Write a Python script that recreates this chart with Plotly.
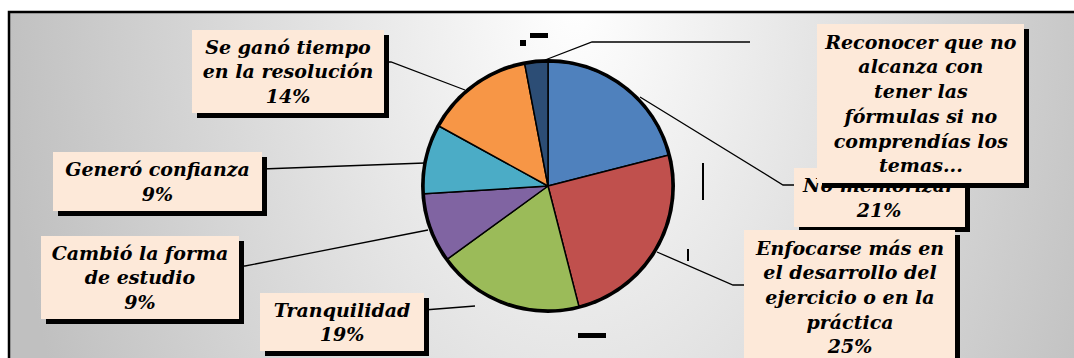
import base64
import plotly.graph_objects as go

W, H = 1074, 358

# ---- data ----
categories = [
    "No memorizar",
    "Enfocarse más en el desarrollo del ejercicio o en la práctica",
    "Tranquilidad",
    "Cambió la forma de estudio",
    "Generó confianza",
    "Se ganó tiempo en la resolución",
    "Reconocer que no alcanza con tener las fórmulas si no comprendías los temas...",
]
values = [21, 25, 19, 9, 9, 14, 3]
label_lines = [
    ["No memorizar"],
    ["Enfocarse más en", "el desarrollo del", "ejercicio o en la", "práctica"],
    ["Tranquilidad"],
    ["Cambió la forma", "de estudio"],
    ["Generó confianza"],
    ["Se ganó tiempo", "en la resolución"],
    ["Reconocer que no", "alcanza con", "tener las", "fórmulas si no", "comprendías los", "temas..."],
]
show_pct = [True, True, True, True, True, True, False]
colors = ["#4F81BD", "#C0504D", "#9BBB59", "#8064A2", "#4BACC6", "#F79646", "#2C4D75"]

# ---- layout helpers (pixel -> paper) ----
def X(x):
    return x / W

def Y(y):
    return 1 - y / H

cx, cy, r = 548, 186, 124

# label boxes in pixels: x0, x1, y0, y1
boxes = [
    (794, 965, 168, 227),
    (744, 955, 230, 364),
    (260, 424, 293, 351),
    (41, 239, 236, 319),
    (53, 262, 152, 211),
    (192, 384, 30, 113),
    (817, 1024, 24, 183),
]
leaders = [
    [(640, 97), (783, 185), (797, 185)],
    [(657, 252), (733, 285), (744, 285)],
    [(424, 310), (475, 306)],
    [(239, 266), (245, 266), (428, 230)],
    [(262, 169), (425, 163)],
    [(384, 62), (391, 62), (465, 90)],
    [(545, 60), (592, 42), (750, 42)],
]

fig = go.Figure()
fig.add_trace(go.Pie(
    labels=categories, values=values, sort=False, direction="clockwise", rotation=0,
    marker=dict(colors=colors, line=dict(color="black", width=1.5)),
    textinfo="none", hoverinfo="skip", showlegend=False,
    domain=dict(x=[X(cx - r), X(cx + r)], y=[Y(cy + r), Y(cy - r)]),
))

# background gradient (radial, light in top-middle)
svg = (
    "<svg xmlns='http://www.w3.org/2000/svg' width='1074' height='358'>"
    "<defs><radialGradient id='g' gradientUnits='userSpaceOnUse' cx='0' cy='0' r='1' "
    "gradientTransform='translate(575,0) scale(575,900)'>"
    "<stop offset='0' stop-color='#ffffff'/><stop offset='1' stop-color='#c0c0c0'/>"
    "</radialGradient></defs><rect width='1074' height='358' fill='url(#g)'/></svg>"
)
src = "data:image/svg+xml;base64," + base64.b64encode(svg.encode()).decode()
fig.add_layout_image(dict(source=src, xref="paper", yref="paper", x=0, y=1,
                          sizex=1, sizey=1, xanchor="left", yanchor="top",
                          sizing="stretch", layer="below"))

shapes = []
# white outside the frame
shapes.append(dict(type="rect", xref="paper", yref="paper", x0=0, x1=1, y0=Y(11), y1=1,
                   fillcolor="white", line=dict(width=0), layer="below"))
shapes.append(dict(type="rect", xref="paper", yref="paper", x0=0, x1=X(8), y0=0, y1=1,
                   fillcolor="white", line=dict(width=0), layer="below"))
# frame
shapes.append(dict(type="path", xref="paper", yref="paper",
                   path=f"M {X(9)} {Y(365)} L {X(9)} {Y(12)} L {X(1080)} {Y(12)}",
                   line=dict(color="black", width=2.5), layer="below"))
# pie shadow
shapes.append(dict(type="circle", xref="paper", yref="paper",
                   x0=X(cx - r - 3), x1=X(cx + r + 3), y0=Y(cy + r + 3), y1=Y(cy - r - 3),
                   fillcolor="black", line=dict(width=0), layer="below"))
# small artifacts
for (a, b, c, d) in [(578, 606, 333, 338), (702, 704, 163, 200), (687, 689, 249, 261),
                     (530, 548, 33, 38), (520, 526, 40, 46)]:
    shapes.append(dict(type="rect", xref="paper", yref="paper", x0=X(a), x1=X(b),
                       y0=Y(d), y1=Y(c), fillcolor="black", line=dict(width=0), layer="below"))
# leader lines
for pts in leaders:
    p = "M " + " L ".join(f"{X(x)} {Y(y)}" for x, y in pts)
    shapes.append(dict(type="path", xref="paper", yref="paper", path=p,
                       line=dict(color="black", width=1.3), layer="above"))

annotations = []
draw_order = [5, 4, 3, 2, 0, 6, 1]
for i in draw_order:
    x0, x1, y0, y1 = boxes[i]
    lines = list(label_lines[i])
    if show_pct[i]:
        lines.append(f"{values[i]}%")
    text = "<br>".join(f"<b><i>{t}</i></b>" for t in lines)
    w, h = x1 - x0, y1 - y0
    mx, my = (x0 + x1) / 2, (y0 + y1) / 2
    annotations.append(dict(xref="paper", yref="paper", x=X(mx + 5), y=Y(my + 5),
                            xanchor="center", yanchor="middle", text="", showarrow=False,
                            width=w, height=h, bgcolor="black", borderpad=0, borderwidth=0))
    annotations.append(dict(xref="paper", yref="paper", x=X(mx), y=Y(my),
                            xanchor="center", yanchor="middle", text=text, showarrow=False,
                            width=w, height=h, bgcolor="#FDE9D9", borderpad=0, borderwidth=0,
                            align="center", valign="middle",
                            font=dict(family="DejaVu Serif", size=19, color="black")))

fig.update_layout(
    width=W, height=H, margin=dict(l=0, r=0, t=0, b=0),
    paper_bgcolor="white", plot_bgcolor="rgba(0,0,0,0)",
    shapes=shapes, annotations=annotations,
    xaxis=dict(visible=False), yaxis=dict(visible=False),
)
fig.write_html("out.html", config={"displayModeBar": False},
               post_script="document.body.style.margin='0';")
